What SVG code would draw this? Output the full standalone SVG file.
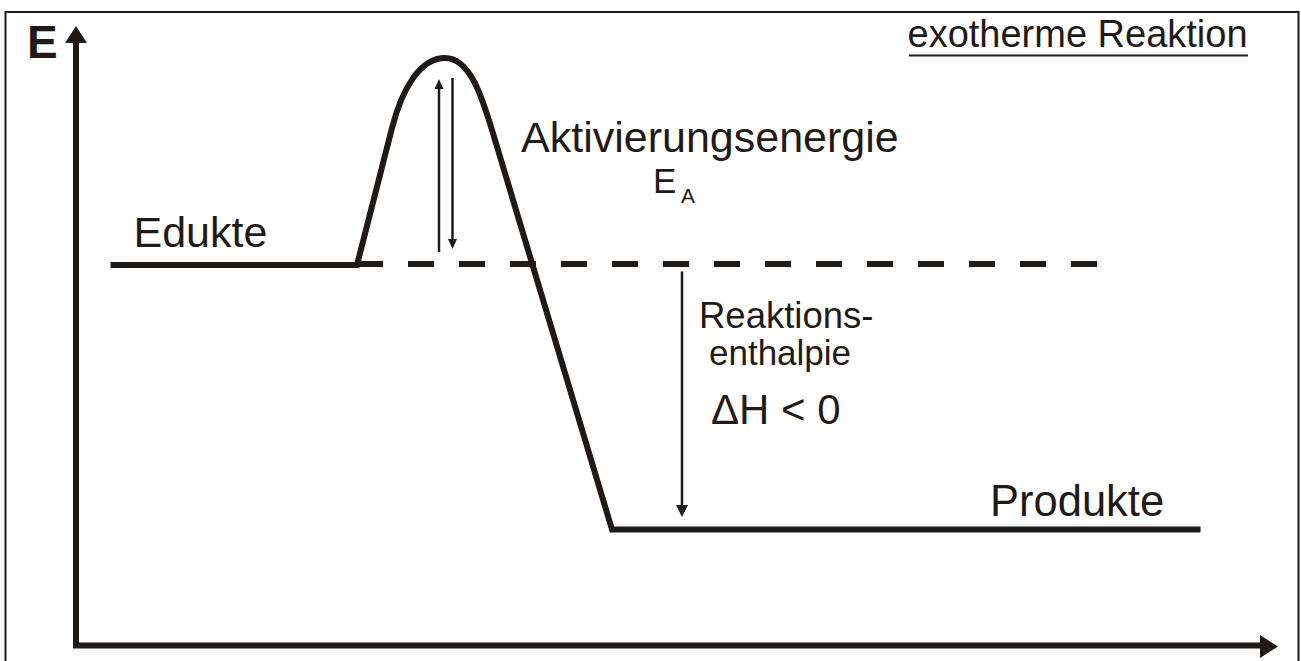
<svg xmlns="http://www.w3.org/2000/svg" width="1301" height="661" viewBox="0 0 1301 661">
<style>
  .t { font-family: "Liberation Sans", Arial, sans-serif; fill: #1f1a17; }
  .thick { fill: none; stroke: #1f1a17; stroke-width: 6; stroke-linejoin: miter; }
  .thin { fill: none; stroke: #1f1a17; stroke-width: 2.5; }
  .head { fill: #1f1a17; stroke: none; }
</style>
<rect x="0" y="0" width="1301" height="661" fill="#ffffff"/>
<rect x="5.5" y="12" width="1293" height="660" fill="none" stroke="#1a1a1a" stroke-width="2"/>

<g id="axes">
  <path class="thick" d="M76 43 L76 645.5 L1260 645.5" stroke-width="5.5"/>
  <polygon class="head" points="76,26 65,43 87,43"/>
  <polygon class="head" points="1278,646.5 1260,635 1260,658"/>
  <text class="t" x="27" y="58" font-size="46" font-weight="bold">E</text>
</g>

<g id="title">
  <text class="t" x="907.5" y="47" font-size="38">exotherme Reaktion</text>
  <line x1="909" y1="55.5" x2="1248" y2="55.5" stroke="#1f1a17" stroke-width="2"/>
</g>

<g id="connectors">
  <path id="energy-curve" class="thick" d="M110.5 265 L357 265 L392 128 C402 89 420 58 445 58 C470 58 482 97 492 130 L612 529.5 L1200.5 529.5"/>
  <line id="reference-level" x1="357" y1="264" x2="1097.5" y2="264" stroke="#1f1a17" stroke-width="6" stroke-dasharray="26 25"/>
  <g id="ea-arrows">
    <line class="thin" x1="439" y1="252" x2="439" y2="87"/>
    <polygon class="head" points="439,79 434.5,89 443.5,89"/>
    <line class="thin" x1="452.5" y1="78" x2="452.5" y2="241"/>
    <polygon class="head" points="452.5,249 448,239 457,239"/>
  </g>
  <g id="dh-arrow">
    <line class="thin" x1="682" y1="271.5" x2="682" y2="507" stroke-width="3"/>
    <polygon class="head" points="682,517 676,505 688,505"/>
  </g>
</g>

<g id="edukte">
  <text class="t" x="133.5" y="247" font-size="43">Edukte</text>
</g>

<g id="aktivierungsenergie">
  <text class="t" x="521" y="152" font-size="43">Aktivierungsenergie</text>
  <text class="t" x="653" y="193" font-size="35">E</text>
  <text class="t" x="681" y="203" font-size="21">A</text>
</g>

<g id="reaktionsenthalpie">
  <text class="t" x="699" y="328" font-size="36.5">Reaktions-</text>
  <text class="t" x="709" y="365" font-size="35">enthalpie</text>
  <text class="t" x="711" y="424" font-size="42">ΔH &lt; 0</text>
</g>

<g id="produkte">
  <text class="t" x="990" y="516" font-size="43.5">Produkte</text>
</g>
</svg>
